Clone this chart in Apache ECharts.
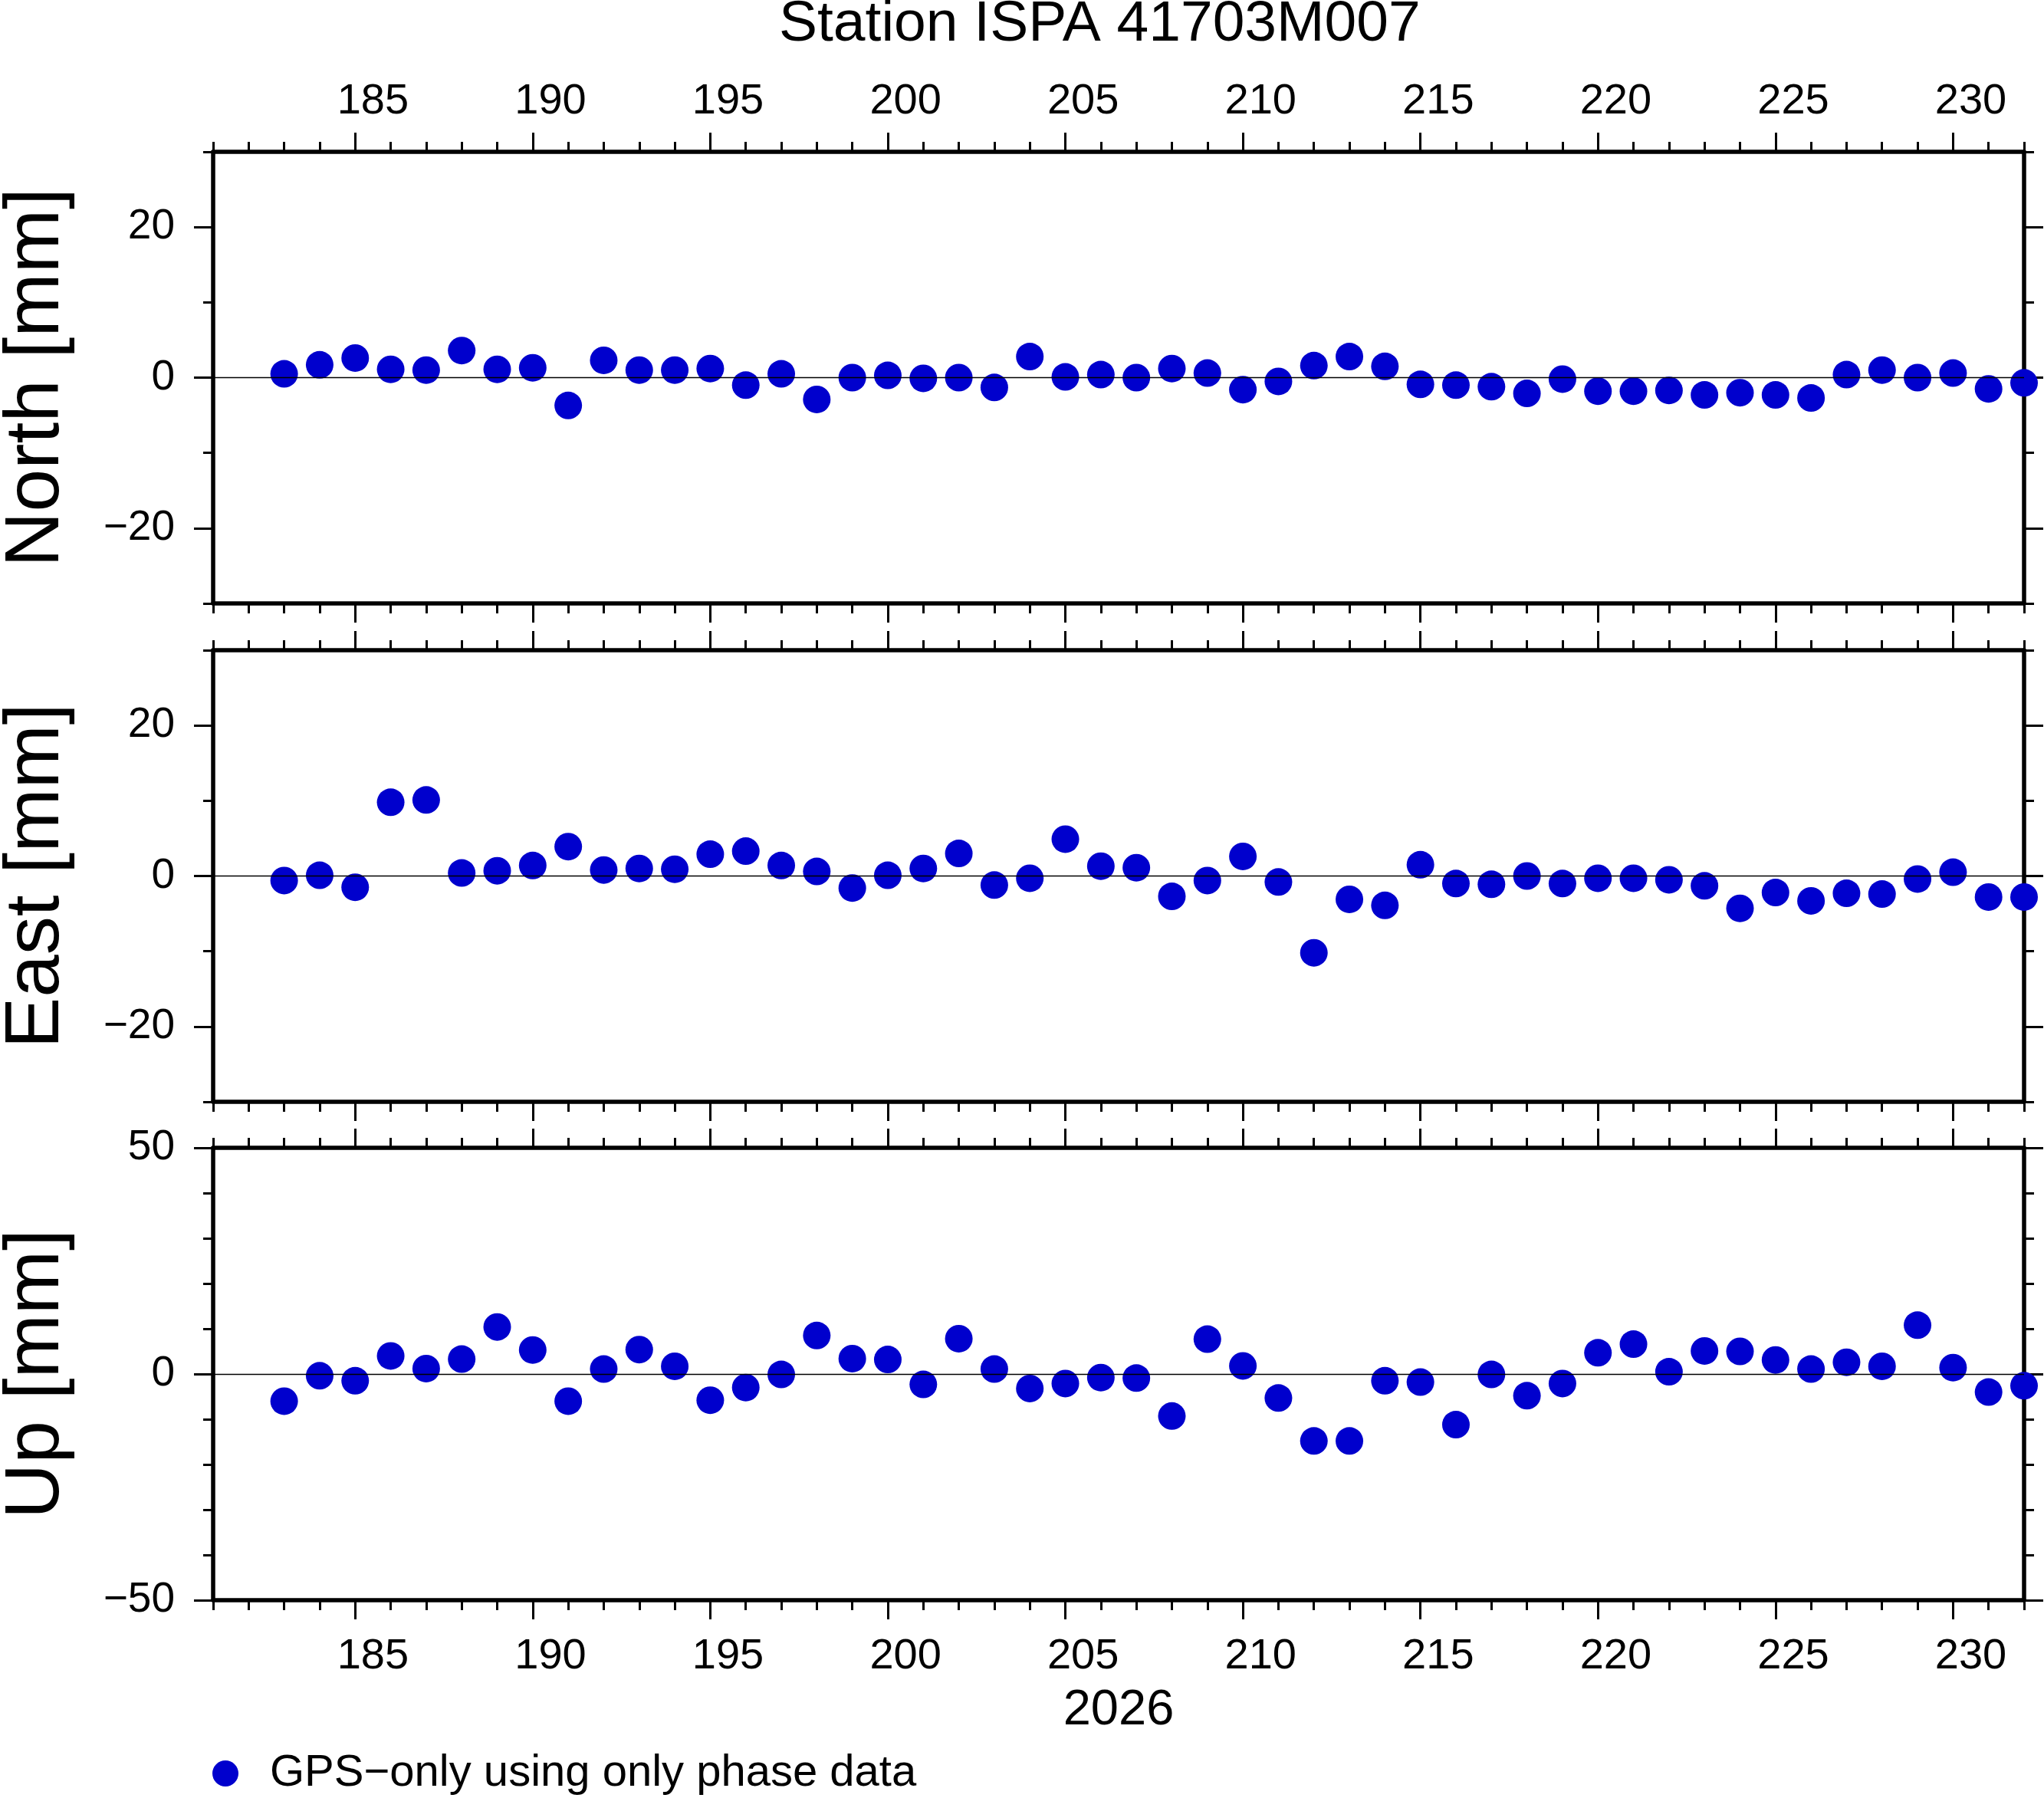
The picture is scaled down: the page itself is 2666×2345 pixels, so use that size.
<!DOCTYPE html>
<html>
<head>
<meta charset="utf-8">
<script src="https://cdn.jsdelivr.net/npm/echarts@6/dist/echarts.min.js"></script>
<style>
html,body{margin:0;padding:0;background:#fff;}
#chart{width:2666px;height:2345px;}
</style>
</head>
<body>
<div id="chart"></div>
<script>
// ---- data (day of year 2026) ----
const days = [183,184,185,186,187,188,189,190,191,192,193,194,195,196,197,198,199,200,201,202,203,204,205,206,207,208,209,210,211,212,213,214,215,216,217,218,219,220,221,222,223,224,225,226,227,228,229,230,231,232];
const northValues = [0.5,1.7,2.6,1.1,1.0,3.6,1.1,1.3,-3.7,2.3,1.0,1.0,1.2,-1.0,0.5,-2.9,0.0,0.3,-0.1,0.0,-1.3,2.8,0.1,0.4,0.0,1.2,0.6,-1.6,-0.5,1.6,2.8,1.5,-0.9,-1.0,-1.2,-2.1,-0.2,-1.8,-1.8,-1.7,-2.3,-2.0,-2.3,-2.7,0.4,1.0,0.0,0.6,-1.5,-0.7];
const eastValues = [-0.6,0.1,-1.5,9.8,10.1,0.4,0.7,1.4,3.9,0.8,1.0,0.9,2.9,3.3,1.4,0.6,-1.6,0.1,1.0,3.0,-1.2,-0.3,4.9,1.3,1.1,-2.7,-0.6,2.6,-0.8,-10.2,-3.1,-3.9,1.5,-1.0,-1.1,0.0,-1.0,-0.3,-0.3,-0.5,-1.3,-4.3,-2.2,-3.3,-2.3,-2.4,-0.4,0.5,-2.8,-2.8];
const upValues = [-6.0,-0.4,-1.5,4.0,1.2,3.3,10.4,5.3,-6.0,1.1,5.4,1.7,-5.8,-3.0,-0.1,8.5,3.4,3.2,-2.3,7.8,1.1,-3.2,-2.1,-0.8,-0.9,-9.3,7.7,1.8,-5.3,-14.8,-14.8,-1.5,-1.8,-11.2,-0.1,-4.8,-2.1,4.7,6.6,0.5,5.1,5.0,3.1,1.1,2.6,1.7,10.8,1.4,-4.0,-2.6];

const xTickLabels = [185,190,195,200,205,210,215,220,225,230];
const neTickLabels = [-20,0,20];
const upTickLabels = [-50,0,50];
const panelNames = ['North [mm]','East [mm]','Up [mm]'];
const titleText = 'Station ISPA 41703M007';
const yearLabel = '2026';
const seriesName = 'GPS\u2212only using only phase data';

// ---- style ----
const FONT = '"Liberation Sans", Arial, Helvetica, sans-serif';
const BLUE = '#0000cd';
const X_MIN = 181, X_MAX = 232;
const panels = [
  {top:198, height:589, min:-30, max:30, ticks:neTickLabels, values:northValues},
  {top:848, height:589, min:-30, max:30, ticks:neTickLabels, values:eastValues},
  {top:1497, height:590, min:-50, max:50, ticks:upTickLabels, values:upValues}
];
const LINE_W = 5.5, TICK_W = 3, MAJ = 25, MIN_L = 13;
const fmt = v => String(v).replace('-', '\u2212');

const grid = [], xAxis = [], yAxis = [], series = [];
panels.forEach((p, g) => {
  grid.push({left:278, right:26, top:p.top, height:p.height, containLabel:false, outerBoundsMode:'none'});
  ['top','bottom'].forEach(pos => {
    const showLab = (g === 0 && pos === 'top') || (g === 2 && pos === 'bottom');
    const isYear = (g === 2 && pos === 'bottom');
    xAxis.push({
      type:'value', gridIndex:g, position:pos, min:X_MIN, max:X_MAX,
      axisLine:{show:true, onZero:false, lineStyle:{color:'#000', width:LINE_W}},
      axisTick:{show:true, inside:false, length:MAJ, customValues:xTickLabels, lineStyle:{color:'#000', width:TICK_W}},
      axisLabel:{show:showLab, customValues:xTickLabels.map(v => v + 0.5), formatter:v => String(Math.floor(v)),
        margin: pos === 'top' ? 37 : 46, fontSize:56, color:'#000', fontFamily:FONT},
      splitLine:{show:false},
      name: isYear ? yearLabel : '', nameLocation:'middle', nameGap:112,
      nameTextStyle:{fontSize:65, color:'#000', fontFamily:FONT}
    });
    xAxis.push({
      type:'value', gridIndex:g, position:pos, min:X_MIN, max:X_MAX, interval:1,
      axisLine:{show:false, onZero:false},
      axisTick:{show:true, inside:false, length:MIN_L, lineStyle:{color:'#000', width:TICK_W}},
      axisLabel:{show:false}, splitLine:{show:false}
    });
  });
  ['left','right'].forEach(pos => {
    yAxis.push({
      type:'value', gridIndex:g, position:pos, min:p.min, max:p.max,
      axisLine:{show:true, onZero:false, lineStyle:{color:'#000', width:LINE_W}},
      axisTick:{show:true, inside:false, length:MAJ, customValues:p.ticks, lineStyle:{color:'#000', width:TICK_W}},
      axisLabel:{show: pos === 'left', customValues:p.ticks, formatter:fmt, margin:50, fontSize:55, color:'#000', fontFamily:FONT},
      splitLine:{show:false},
      name: pos === 'left' ? panelNames[g] : '', nameLocation:'middle', nameGap:180,
      nameTextStyle:{fontSize:100, color:'#000', fontFamily:FONT}
    });
    yAxis.push({
      type:'value', gridIndex:g, position:pos, min:p.min, max:p.max, interval:10,
      axisLine:{show:false, onZero:false},
      axisTick:{show:true, inside:false, length:MIN_L, lineStyle:{color:'#000', width:TICK_W}},
      axisLabel:{show:false}, splitLine:{show:false}
    });
  });
  series.push({
    name:seriesName, type:'scatter', xAxisIndex:4*g+2, yAxisIndex:4*g,
    data: days.map((d, i) => [d, p.values[i]]),
    symbol:'circle', symbolSize:36, clip:false,
    itemStyle:{color:BLUE, opacity:1},
    markLine:{silent:true, symbol:'none', animation:false, label:{show:false},
      lineStyle:{color:'#000', width:1.3, type:'solid'}, data:[{yAxis:0}]},
    z:3
  });
});

const chart = echarts.init(document.getElementById('chart'), null, {renderer:'canvas'});
chart.setOption({
  backgroundColor:'#fff',
  animation:false,
  title:{text:titleText, left:1016, top:-5, padding:0,
    textStyle:{fontSize:75, fontWeight:'normal', color:'#000', fontFamily:FONT}},
  legend:{data:[seriesName], left:277, top:2284, padding:0, icon:'circle', itemWidth:34, itemHeight:34,
    textStyle:{fontSize:58, color:'#000', fontFamily:FONT, padding:[0,0,0,36]}},
  grid, xAxis, yAxis, series
});
</script>
</body>
</html>
